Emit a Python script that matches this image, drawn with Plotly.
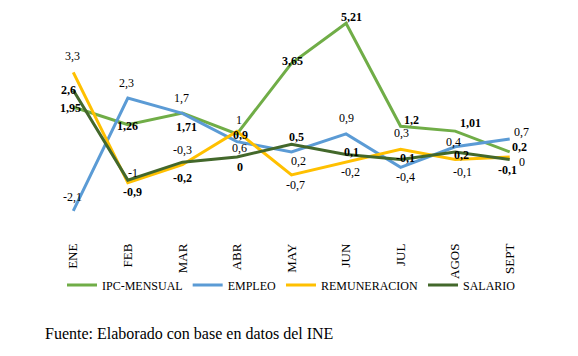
import plotly.graph_objects as go

meses = ["ENE", "FEB", "MAR", "ABR", "MAY", "JUN", "JUL", "AGOS", "SEPT"]
ipc_mensual = [1.95, 1.26, 1.71, 0.9, 3.65, 5.21, 1.2, 1.01, 0.2]
empleo = [-2.1, 2.3, 1.7, 0.6, 0.2, 0.9, -0.4, 0.4, 0.7]
remuneracion = [3.3, -1, -0.3, 1, -0.7, -0.2, 0.3, -0.1, 0]
salario = [2.6, -0.9, -0.2, 0, 0.5, 0.1, -0.1, 0.2, -0.1]

fuente = "Fuente: Elaborado con base en datos del INE"

# data-label pixel offsets from each point (dx right, dy down) - style only
off_ipc = [(-3, 1), (0, 1), (4, 14), (4, 1), (1, -2), (5, -6), (11, -6), (15, -8), (10, -5)]
off_emp = [(-1, -14), (-1, -15), (-1, -15), (3, 6), (7, 9), (0, -16), (5, 10), (-2, -5), (12, -7)]
off_rem = [(-1, -16), (5, -10), (0, -15), (2, -11), (4, 10), (4, 10), (1, -16), (7, 12), (12, 5)]
off_sal = [(-5, 0), (5, 12), (0, 16), (3, 10), (5, -7), (5, -2), (5, -2), (6, 3), (-2, 10)]


def fmt(v):
    return f"{v:g}".replace(".", ",")


FONT = "Liberation Serif"

series = [
    ("IPC-MENSUAL", ipc_mensual, "#70AD47", off_ipc, "bold"),
    ("EMPLEO", empleo, "#5B9BD5", off_emp, "normal"),
    ("REMUNERACION", remuneracion, "#FFC000", off_rem, "normal"),
    ("SALARIO", salario, "#43682B", off_sal, "bold"),
]

fig = go.Figure()
annotations = []
for name, vals, color, offs, weight in series:
    fig.add_trace(go.Scatter(
        x=meses, y=vals, name=name, mode="lines",
        line=dict(color=color, width=3),
        hoverinfo="skip",
    ))
    for m, v, (dx, dy) in zip(meses, vals, offs):
        annotations.append(dict(
            x=m, y=v, xref="x", yref="y", text=fmt(v), showarrow=False,
            xanchor="center", yanchor="middle", xshift=dx, yshift=-dy,
            font=dict(family=FONT, size=12, color="#000000", weight=weight),
        ))

# page body adds an 8px offset; figure sized to fill the rest of the window
OFF = 8
W, H = 578 - OFF, 356 - OFF
ml, mt = 46 - OFF, 10 - OFF
plot_bottom = 234 - OFF
plot_right = 537 - OFF
mr = W - plot_right
mb = H - plot_bottom
pw = W - ml - mr
ph = H - mt - mb

annotations.append(dict(
    text=fuente, xref="paper", yref="paper",
    x=((43 - OFF) - ml) / pw, y=-((333 - OFF) - plot_bottom) / ph,
    xanchor="left", yanchor="middle", showarrow=False,
    font=dict(family=FONT, size=16, color="#000000")))

fig.update_layout(
    width=W, height=H,
    margin=dict(l=ml, r=mr, t=mt, b=mb, autoexpand=False),
    paper_bgcolor="white", plot_bgcolor="white",
    font=dict(family=FONT, size=12, color="#000000"),
    showlegend=True,
    legend=dict(orientation="h", x=0.5, xanchor="center",
                y=-((285 - OFF) - plot_bottom) / ph, yanchor="middle",
                font=dict(family=FONT, size=12, color="#000000"),
                itemwidth=30, tracegroupgap=0, bgcolor="rgba(0,0,0,0)"),
    xaxis=dict(type="category", range=[-0.5, 8.5], showgrid=False, zeroline=False,
               showline=False, ticks="", tickangle=-90,
               tickfont=dict(family=FONT, size=13, color="#000000"),
               ticklabelstandoff=6),
    yaxis=dict(range=[-3, 5.73], visible=False, showgrid=False, zeroline=False),
    annotations=annotations,
)

fig.write_html("out.html")
